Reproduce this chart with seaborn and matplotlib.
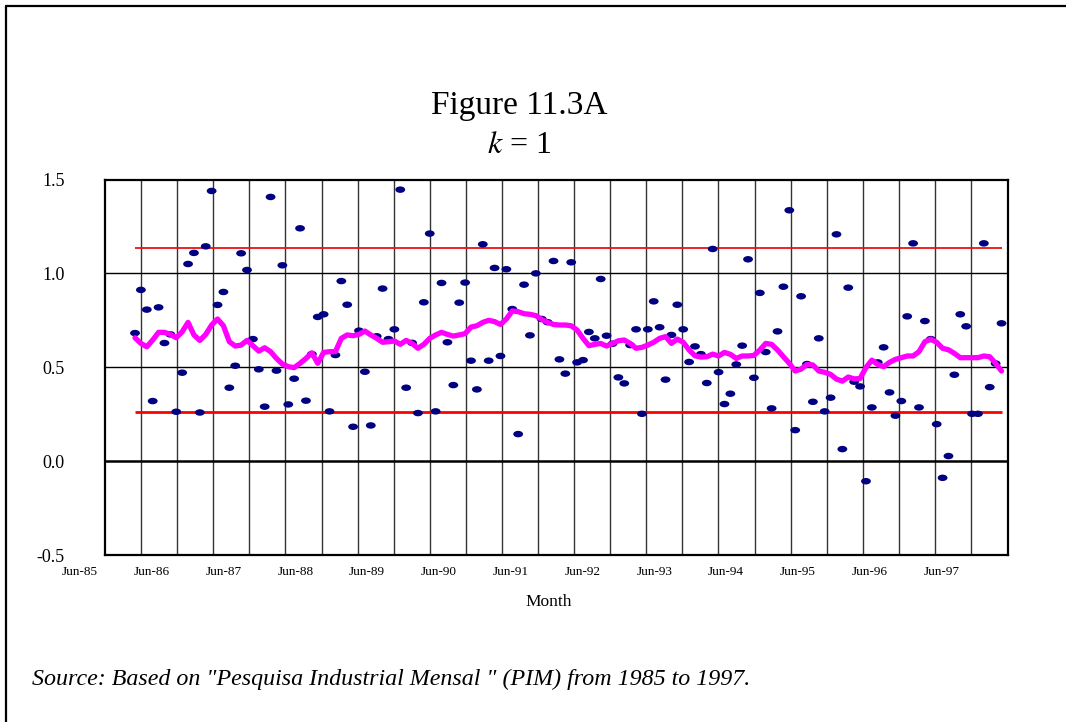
import numpy as np
import pandas as pd
import matplotlib
matplotlib.use("Agg")
import matplotlib.pyplot as plt
from matplotlib.path import Path
from matplotlib.lines import Line2D
import matplotlib.transforms as mtransforms
import seaborn as sns

# Monthly observations (ratio) and their moving trend
ratio = [
    0.682, 0.912, 0.807, 0.320, 0.819, 0.629, 0.675, 0.263, 0.471, 1.050,
    1.109, 0.259, 1.144, 1.439, 0.832, 0.901, 0.391, 0.508, 1.107, 1.018,
    0.650, 0.489, 0.290, 1.407, 0.482, 1.043, 0.302, 0.439, 1.240, 0.322,
    0.570, 0.768, 0.782, 0.265, 0.565, 0.959, 0.833, 0.183, 0.695, 0.476,
    0.190, 0.665, 0.919, 0.650, 0.702, 1.446, 0.391, 0.630, 0.256, 0.846,
    1.212, 0.265, 0.949, 0.633, 0.405, 0.844, 0.951, 0.535, 0.382, 1.155,
    0.535, 1.029, 0.560, 1.022, 0.810, 0.144, 0.940, 0.670, 1.000, 0.757,
    0.740, 1.066, 0.542, 0.466, 1.059, 0.526, 0.538, 0.688, 0.654, 0.970,
    0.668, 0.625, 0.446, 0.414, 0.618, 0.702, 0.252, 0.702, 0.851, 0.713,
    0.434, 0.672, 0.833, 0.702, 0.528, 0.611, 0.570, 0.416, 1.130, 0.474,
    0.304, 0.359, 0.515, 0.615, 1.075, 0.444, 0.896, 0.581, 0.281, 0.691,
    0.929, 1.336, 0.165, 0.878, 0.517, 0.316, 0.654, 0.265, 0.338, 1.208,
    0.064, 0.924, 0.423, 0.398, -0.107, 0.286, 0.526, 0.606, 0.366, 0.242,
    0.320, 0.771, 1.160, 0.286, 0.746, 0.650, 0.197, -0.089, 0.027, 0.460,
    0.782, 0.718, 0.252, 0.252, 1.160, 0.394, 0.520, 0.734,
]

trend = [
    0.657, 0.627, 0.609, 0.645, 0.686, 0.686, 0.675, 0.657, 0.689, 0.739,
    0.672, 0.643, 0.675, 0.725, 0.757, 0.721, 0.636, 0.613, 0.618, 0.643,
    0.615, 0.586, 0.604, 0.583, 0.547, 0.517, 0.503, 0.498, 0.521, 0.547,
    0.577, 0.521, 0.579, 0.583, 0.583, 0.654, 0.672, 0.668, 0.675, 0.693,
    0.672, 0.654, 0.633, 0.636, 0.640, 0.622, 0.643, 0.627, 0.601, 0.622,
    0.654, 0.672, 0.686, 0.675, 0.666, 0.672, 0.679, 0.714, 0.721, 0.739,
    0.750, 0.743, 0.728, 0.757, 0.800, 0.796, 0.785, 0.782, 0.775, 0.755,
    0.739, 0.728, 0.725, 0.725, 0.721, 0.698, 0.654, 0.615, 0.622, 0.627,
    0.613, 0.627, 0.641, 0.645, 0.627, 0.601, 0.606, 0.618, 0.633, 0.654,
    0.663, 0.627, 0.650, 0.633, 0.592, 0.561, 0.554, 0.556, 0.570, 0.560,
    0.579, 0.569, 0.547, 0.560, 0.560, 0.563, 0.592, 0.627, 0.622, 0.592,
    0.556, 0.521, 0.480, 0.490, 0.515, 0.512, 0.480, 0.473, 0.462, 0.437,
    0.426, 0.448, 0.438, 0.440, 0.498, 0.538, 0.515, 0.503, 0.526, 0.542,
    0.551, 0.560, 0.560, 0.583, 0.636, 0.650, 0.633, 0.601, 0.593, 0.574,
    0.551, 0.551, 0.551, 0.551, 0.560, 0.556, 0.521, 0.480,
]

upper_limit = 1.134
lower_limit = 0.261

month_labels = ["Jun-85", "Jun-86", "Jun-87", "Jun-88", "Jun-89", "Jun-90",
                "Jun-91", "Jun-92", "Jun-93", "Jun-94", "Jun-95", "Jun-96",
                "Jun-97"]
y_ticks = [-0.5, 0.0, 0.5, 1.0, 1.5]

df = pd.DataFrame({"month": np.arange(len(ratio)), "ratio": ratio, "trend": trend})

sns.set_style("white")
plt.rcParams["font.family"] = ["Liberation Serif", "DejaVu Serif"]
plt.rcParams["mathtext.fontset"] = "stix"
plt.rcParams["axes.unicode_minus"] = False
for key in ("text.color", "axes.labelcolor", "xtick.color", "ytick.color"):
    plt.rcParams[key] = "black"

fig = plt.figure(figsize=(10.66, 7.22), dpi=100)
fig.patch.set_facecolor("white")
ax = fig.add_axes([105 / 1066, 1 - 555 / 722, (1008 - 105) / 1066, (555 - 179.5) / 722])

# axis layout (in month-index units)
x_left, x_right = -5.09, 148.1
grid_step = 6.122
ax.set_xlim(x_left, x_right)
ax.set_ylim(-0.5, 1.5)

# vertical grid every half year
for k in range(1, 25):
    ax.axvline(x_left + k * grid_step, color="#333333", lw=1.0, zorder=1)
for yv in (0.5, 1.0):
    ax.axhline(yv, color="black", lw=1.0, zorder=1)
ax.axhline(0.0, color="black", lw=1.8, zorder=1)

# control limits
ax.hlines(upper_limit, df["month"].iloc[0], df["month"].iloc[-1], color="#f01010", lw=1.3, zorder=2)
ax.hlines(lower_limit, df["month"].iloc[0], df["month"].iloc[-1], color="#ff0000", lw=2.0, zorder=2)

# observations as flattened navy dots
circ = Path.unit_circle()
ellipse = Path(circ.vertices * np.array([1.0, 0.66]), circ.codes)
sns.scatterplot(data=df, x="month", y="ratio", marker=ellipse, s=50,
                color="#000080", edgecolor="none", linewidth=0, ax=ax, zorder=3)

# trend line
sns.lineplot(data=df, x="month", y="trend", color="#ff00ff", lw=3.8, ax=ax, zorder=4)

ax.set_xlabel("")
ax.set_ylabel("")
ax.set_xticks([])
ax.set_yticks(y_ticks)
ax.set_yticklabels([f"{v:.1f}" for v in y_ticks], fontsize=13)
ax.tick_params(axis="y", length=0, pad=29)
for s in ax.spines.values():
    s.set_color("black")
    s.set_linewidth(1.6)

# month labels under the axis
trans = mtransforms.blended_transform_factory(ax.transData, ax.transAxes)
label_start = -9.33
label_step = 12.18
for k, lab in enumerate(month_labels):
    ax.text(label_start + k * label_step, -0.045, lab, transform=trans, ha="center",
            va="center", fontsize=9.5, clip_on=False)

fig.text(0.515, 1 - 602 / 722, "Month", ha="center", va="center", fontsize=12.5)
fig.text(519 / 1066, 1 - 114 / 722, "Figure 11.3A", ha="center", va="baseline", fontsize=24)
fig.text(519 / 1066, 1 - 153 / 722, "$k$ = 1", ha="center", va="baseline", fontsize=23)
fig.text(32 / 1066, 1 - 685 / 722,
         'Source: Based on "Pesquisa Industrial Mensal " (PIM) from 1985 to 1997.',
         ha="left", va="baseline", fontsize=17.3, style="italic")

# outer frame (top and left edges)
fig.add_artist(Line2D([6 / 1066, 1.0], [1 - 5.7 / 722, 1 - 5.7 / 722],
                      transform=fig.transFigure, color="black", lw=1.6))
fig.add_artist(Line2D([6 / 1066, 6 / 1066], [0.0, 1 - 5.7 / 722],
                      transform=fig.transFigure, color="black", lw=1.6))

fig.savefig("out.png", dpi=100)
